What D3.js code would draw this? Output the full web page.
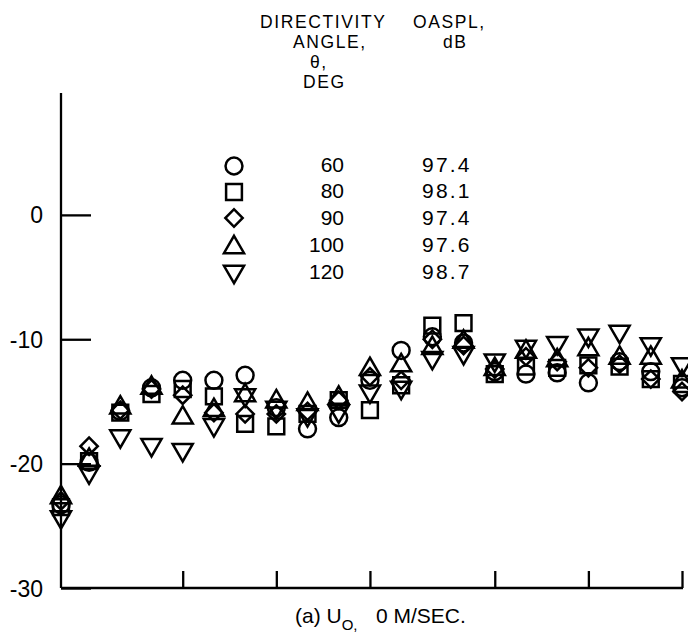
<!DOCTYPE html>
<html>
<head>
<meta charset="utf-8">
<script src="https://cdn.jsdelivr.net/npm/d3@7"></script>
<style>
  html, body { margin: 0; padding: 0; background: #fff; }
  svg { display: block; font-family: "Liberation Sans", Arial, sans-serif; }
  .axis path, .axis line { stroke: #000; stroke-width: 2.3; }
  .axis text { fill: #000; }
</style>
</head>
<body>
<svg id="chart" width="688" height="640"></svg>
<script>
// One-third-octave band position along x (first band sits on the axis)
const bands = [0.1, 1, 2, 3, 4, 5, 6, 7, 8, 9, 10, 11, 12, 13, 14, 15, 16, 17, 18, 19, 20];

// Relative sound pressure level, dB, per directivity angle
const deg60  = [-23.3, -19.9, -15.8, -13.9, -13.3, -13.3, -12.9, -15.5, -17.2, -16.3, -13.3,
                -10.9,  -9.8, -10.3, -12.6, -12.8, -12.7, -13.5, -11.8, -12.6, -13.9];
const deg80  = [-23.5, -19.8, -15.9, -14.4, -14.0, -14.6, -16.8, -17.0, -16.0, -14.9, -15.7,
                -13.7,  -8.9,  -8.7, -12.8, -12.2, -12.3, -12.1, -12.2, -13.2, -13.6];
const deg90  = [-23.0, -18.6, -15.7, -14.0, -14.5, -15.9, -16.0, -16.0, -15.8, -14.9, -13.0,
                -13.3, -10.0, -10.5, -12.4, -11.4, -11.8, -12.3, -12.0, -13.2, -14.2];
const deg100 = [-22.6, -19.6, -15.4, -13.8, -16.2, -15.6, -14.4, -14.9, -15.1, -14.6, -12.3,
                -12.0, -10.6, -10.1, -12.3, -10.9, -11.6, -10.7, -11.4, -11.4, -13.3];
const deg120 = [-24.4, -20.8, -17.9, -18.6, -19.0, -17.0, -14.6, -15.6, -16.2, -15.9, -14.3,
                -14.0, -11.6, -11.2, -11.8, -10.7, -10.4,  -9.8,  -9.5, -10.5, -12.1];

// Legend entries
const angles = ["60", "80", "90", "100", "120"];
const oaspl  = ["97.4", "98.1", "97.4", "97.6", "98.7"];

// Axis ticks
const yTicks = [0, -10, -20, -30];
const xTicks = [4, 7, 10, 14, 17, 20];

const seriesList = [deg60, deg80, deg90, deg100, deg120];
const markers = ["circle", "square", "diamond", "up", "down"];

const svg = d3.select("#chart");

const x = d3.scaleLinear().domain([0.1, 20]).range([61, 682]);
const y = d3.scaleLinear().domain([-30, 9.8]).range([588, 93]);

// Marker shapes
const symbolFor = {
  circle:  d3.symbol().type(d3.symbolCircle).size(225),
  square:  d3.symbol().type(d3.symbolSquare).size(250),
  diamond: d3.symbol().type(d3.symbolSquare).size(150),
  up:      d3.symbol().type(d3.symbolTriangle).size(175),
  down:    d3.symbol().type(d3.symbolTriangle).size(175)
};
const rotateFor = { circle: 0, square: 0, diamond: 45, up: 0, down: 180 };
// shift triangles so their bounding box is centred on the value
const shiftFor = { circle: 0, square: 0, diamond: 0, up: 1.4, down: -1.4 };

function drawMarker(g, kind, cx, cy) {
  g.append("path")
    .attr("d", symbolFor[kind]())
    .attr("transform", `translate(${cx},${cy + shiftFor[kind]}) rotate(${rotateFor[kind]})`)
    .attr("fill", "none")
    .attr("stroke", "#000")
    .attr("stroke-width", 2.5);
}

// Y axis with inward ticks
const yAxis = d3.axisLeft(y)
  .tickValues(yTicks)
  .tickSize(-30)
  .tickPadding(18)
  .tickFormat(d => d === 0 ? "0" : "-" + Math.abs(d));
const gy = svg.append("g").attr("class", "axis").attr("transform", `translate(${x(0.1)},0)`).call(yAxis);
gy.select(".domain").attr("d", `M0,${y(9.8)}V${y(-30)}`);
gy.selectAll("text").attr("font-size", 23).attr("dy", "0.35em");

// X axis with upward ticks, no labels
const xAxis = d3.axisBottom(x)
  .tickValues(xTicks)
  .tickSize(-17)
  .tickFormat("");
const gx = svg.append("g").attr("class", "axis").attr("transform", `translate(0,${y(-30)})`).call(xAxis);
gx.select(".domain").attr("d", `M${x(0.1)},0H${x(20) + 1}`);

// Data markers
const gData = svg.append("g");
seriesList.forEach((vals, si) => {
  vals.forEach((v, i) => drawMarker(gData, markers[si], x(bands[i]), y(v)));
});

// Legend heading (stacked lines)
const gLeg = svg.append("g").attr("fill", "#000");
const head = [
  ["DIRECTIVITY", 260, 28], ["ANGLE,", 293, 48], ["θ,", 310, 68], ["DEG", 303, 88],
  ["OASPL,", 413, 28], ["dB", 443, 48]
];
head.forEach(([t, tx, ty]) => gLeg.append("text")
  .attr("x", tx).attr("y", ty)
  .attr("font-size", 17.5)
  .attr("letter-spacing", 1.6)
  .text(t));

// Legend rows
const rowBase = [172, 198, 225, 252, 279];
const rowMark = [166, 192, 218, 246, 273];
angles.forEach((a, i) => {
  drawMarker(gLeg, markers[i], 234, rowMark[i]);
  gLeg.append("text").attr("x", 344).attr("y", rowBase[i])
    .attr("font-size", 21).attr("text-anchor", "end").text(a);
  gLeg.append("text").attr("x", 422).attr("y", rowBase[i])
    .attr("font-size", 21).attr("letter-spacing", 2.2).text(oaspl[i]);
});

// Caption
const cap = svg.append("text").attr("x", 295).attr("y", 623).attr("font-size", 21).attr("fill", "#000");
cap.append("tspan").text("(a) U");
cap.append("tspan").attr("dy", 7).attr("font-size", 15).text("O,");
cap.append("tspan").attr("x", 376).attr("dy", -7).text("0 M/SEC.");
</script>
</body>
</html>
